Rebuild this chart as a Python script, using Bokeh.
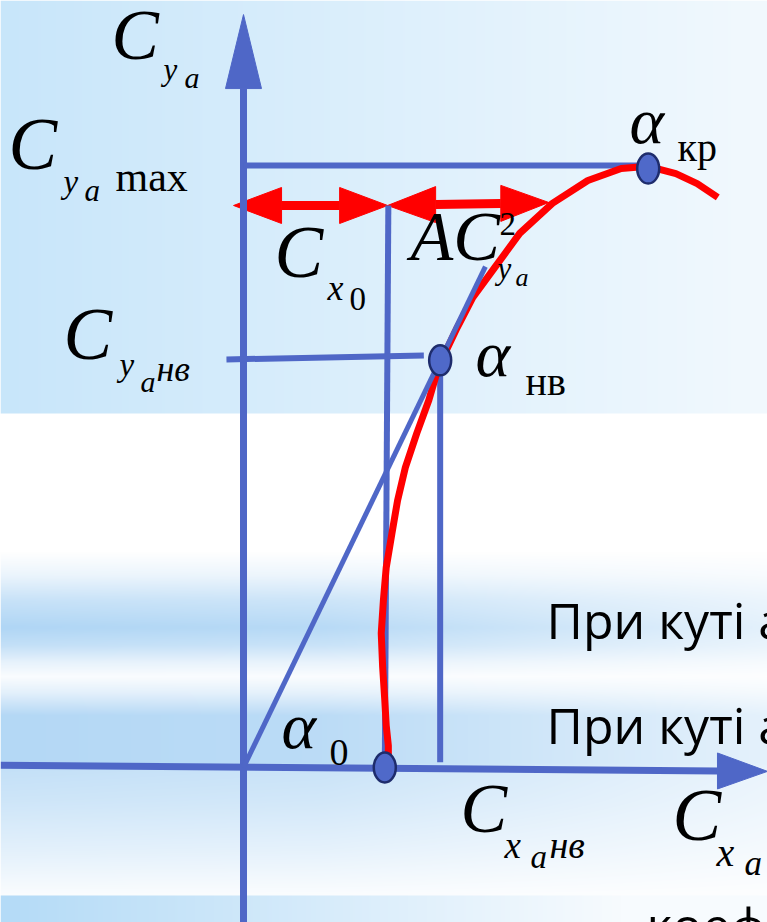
import numpy as np
from bokeh.plotting import figure
from bokeh.models import Range1d
from bokeh.core.properties import value
from bokeh.embed import file_html
from bokeh.resources import INLINE

# ---- drag polar C_ya(C_xa), read point by point ----
polar_cx = [0.0204, 0.0204, 0.0201, 0.0199, 0.0196, 0.0194, 0.0197, 0.0201, 0.0209,
            0.0217, 0.0228, 0.0244, 0.0261, 0.0275, 0.0301, 0.0323, 0.0354, 0.0389,
            0.0435, 0.0485, 0.0532, 0.0570, 0.0609, 0.0639, 0.0668]
polar_cy = [0.016, 0.051, 0.098, 0.156, 0.233, 0.312, 0.388, 0.465, 0.544,
            0.621, 0.698, 0.777, 0.854, 0.933, 1.023, 1.093, 1.163, 1.242,
            1.312, 1.365, 1.393, 1.398, 1.381, 1.358, 1.326]

# characteristic points: alpha_0, alpha_nv (best L/D), alpha_kr (stall)
point_names = ["alpha_0", "alpha_nv", "alpha_kr"]
point_cx = [0.0199, 0.0277, 0.0570]
point_cy = [0.000, 0.947, 1.393]

CY_MAX = 1.400          # level of C_ya max
CY_ARROWS = 1.307       # level of the C_x0 / A*C_ya^2 arrows
CX_AXIS_MIN, CX_AXIS_MAX = -0.0342, 0.0738
CY_AXIS_MIN, CY_AXIS_MAX = -0.3605, 1.751

# split of drag at the arrow level: C_x0 then A*C_ya^2
arrow_x0 = [-0.0014, 0.0203]
arrow_x1 = [0.0203, 0.0430]
arrow_y0 = [1.307, 1.307]
arrow_y1 = [1.307, 1.314]

# ---- canvas geometry ----
W, H = 767, 922
OX, OY = 243, 767       # origin in screen pixels
SX, SY = 7100.0, 430.0  # pixels per unit of C_xa / C_ya
BASE_SHIFT = 0.41       # em offset of the rendered alphabetic baseline


def dx(px):
    return (px - OX) / SX


def dy(py):
    return (OY - py) / SY


BLUE = "#4f67c7"
RED = "#ff0000"

p = figure(width=W, height=H, x_range=Range1d(dx(0), dx(W)), y_range=Range1d(dy(H), dy(0)),
           x_axis_type=None, y_axis_type=None, output_backend="svg", toolbar_location=None,
           min_border=0)
p.grid.visible = False
p.outline_line_color = None
p.background_fill_color = "white"
p.border_fill_color = "white"

# ---- slide background: gradient header, banded middle, bottom strip ----
ys = np.arange(H) + 0.5
xs = np.arange(W) + 0.5
X, Y = np.meshgrid(xs, ys)
rgb = np.full((H, W, 3), 255.0)

top = Y < 413
TL = np.array([200, 230, 250.0])
TR = np.array([242, 249, 254.0])
t = (X / W)[..., None]
rgb[top] = (TL * (1 - t) + TR * t)[top]

mid = (Y >= 413) & (Y < 895)
v = np.interp(ys, [413, 552, 575, 600, 627, 645, 662, 676, 692, 715, 762, 770, 800, 850, 893],
              [0, 0, 0.25, 0.7, 1.0, 0.75, 0.3, 0.06, 0.35, 0.95, 0.95, 0.74, 0.62, 0.35, 0.07])
hx = np.interp(xs, [0, 320, 767], [1.0, 0.9, 0.35])
w = (v[:, None] * hx[None, :])[..., None]
BAND = np.array([176, 214, 245.0])
rgb[mid] = (255 * (1 - w) + BAND * w)[mid]

bot = Y >= 895
BL = np.array([180, 219, 247.0])
BR = np.array([247, 251, 254.0])
tb = np.clip(X / 620, 0, 1)[..., None]
rgb[bot] = (BL * (1 - tb) + BR * tb)[bot]

img = np.empty((H, W), dtype=np.uint32)
view = img.view(dtype=np.uint8).reshape((H, W, 4))
view[..., :3] = np.clip(rgb, 0, 255).astype(np.uint8)
view[..., 3] = 255
p.image_rgba(image=[np.flipud(img)], x=dx(0), y=dy(H), dw=W / SX, dh=H / SY)

# ---- red double arrows (drawn under the blue lines) ----
HL, HW = 48, 18   # head length / half width in px
for x0, x1, y0, y1 in zip(arrow_x0, arrow_x1, arrow_y0, arrow_y1):
    bx0, bx1 = x0 + HL / SX, x1 - HL / SX
    k = (y1 - y0) / (x1 - x0)
    by0, by1 = y0 + k * (bx0 - x0), y0 + k * (bx1 - x0)
    p.segment(x0=[bx0], y0=[by0], x1=[bx1], y1=[by1], line_color=RED, line_width=9)
    p.patches(xs=[[x0, bx0, bx0], [x1, bx1, bx1]],
              ys=[[y0, by0 + HW / SY, by0 - HW / SY], [y1, by1 + HW / SY, by1 - HW / SY]],
              fill_color=RED, line_color=RED, line_width=1)

# ---- axes with arrow heads ----
p.line([0, 0], [CY_AXIS_MIN, CY_AXIS_MAX - 74 / SY], line_color=BLUE, line_width=7)
p.patch([0, -18 / SX, 18 / SX], [CY_AXIS_MAX, CY_AXIS_MAX - 74 / SY, CY_AXIS_MAX - 74 / SY],
        fill_color=BLUE, line_color=BLUE)
x_axis_y0, x_axis_y1 = 0.005, -0.009
tip_x = CX_AXIS_MAX
base_x = tip_x - 50 / SX
base_y = x_axis_y0 + (x_axis_y1 - x_axis_y0) * (base_x - CX_AXIS_MIN) / (tip_x - CX_AXIS_MIN)
p.line([CX_AXIS_MIN, base_x], [x_axis_y0, base_y], line_color=BLUE, line_width=7)
p.patch([tip_x, base_x, base_x], [x_axis_y1, base_y + 18 / SY, base_y - 18 / SY],
        fill_color=BLUE, line_color=BLUE)

# ---- guide lines ----
cx0, cy0 = point_cx[0], point_cy[0]
cxn, cyn = point_cx[1], point_cy[1]
cxk, cyk = point_cx[2], point_cy[2]
p.line([0, cxk], [CY_MAX, CY_MAX], line_color=BLUE, line_width=6)
p.line([cx0, cx0 + 0.0005], [cy0, CY_ARROWS], line_color=BLUE, line_width=6)
p.line([-0.0024, cxn - 0.0023], [cyn + 0.002, cyn + 0.011], line_color=BLUE, line_width=6)
p.line([cxn, cxn], [cyn, 0.012], line_color=BLUE, line_width=6)

# ---- polar curve, tangent from the origin, points ----
p.line(polar_cx, polar_cy, line_color=RED, line_width=7, line_join="round")
p.line([0, cxn * 1.23], [0, cyn * 1.23], line_color=BLUE, line_width=5)
p.ellipse(x=point_cx, y=point_cy, width=22 / SX, height=30 / SY,
          fill_color="#4f69c9", line_color="#1e2c6c", line_width=2.5)


def label(txt, px, py, size, style="normal", font="Liberation Serif"):
    """Place text with its alphabetic baseline at screen pixel (px, py)."""
    p.text(x=[dx(px)], y=[dy(py - BASE_SHIFT * size)], text=[txt], text_font=value(font),
           text_font_size=f"{size}px", text_font_style=style, text_color="black",
           text_baseline="alphabetic", text_align="left")


# ---- formula labels (serif) ----
labels = [
    ("C", 111, 64, 71, "italic"), ("y", 163, 82, 31, "italic"), ("a", 184, 89, 30, "italic"),
    ("C", 8, 174, 73, "italic"), ("y", 63, 195, 33, "italic"), ("a", 84, 203, 31, "italic"),
    ("max", 115, 194, 42, "normal"),
    ("C", 63, 364, 73, "italic"), ("y", 119, 378, 33, "italic"), ("a", 140, 393, 30, "italic"),
    ("нв", 156, 383, 36, "italic"),
    ("C", 274, 282, 73, "italic"), ("x", 327, 302, 36, "italic"), ("0", 349, 312, 33, "normal"),
    ("AC", 410, 265, 70, "italic"), ("2", 499, 237, 33, "normal"),
    ("y", 497, 281, 31, "italic"), ("a", 515, 288, 26, "italic"),
    ("α", 629, 147, 66, "italic"), ("кр", 677, 163, 40, "normal"),
    ("α", 475, 380, 66, "italic"), ("нв", 525, 397, 40, "normal"),
    ("α", 281, 752, 66, "italic"), ("0", 329, 768, 38, "normal"),
    ("C", 460, 837, 70, "italic"), ("x", 504, 860, 37, "italic"), ("a", 530, 870, 33, "italic"),
    ("нв", 549, 860, 38, "italic"),
    ("C", 672, 845, 73, "italic"), ("x", 716, 868, 40, "italic"), ("a", 744, 877, 35, "italic"),
]
for txt, px, py, size, style in labels:
    label(txt, px, py, size, style)

# ---- slide body text (runs off the slide edge) ----
label("При куті а", 546, 640, 50, font="Open Sans")
label("При куті а", 546, 745, 50, font="Open Sans")
label("коефіцієнт", 646, 945, 50, font="Open Sans")

open("out.html", "w").write(file_html(p, INLINE))
